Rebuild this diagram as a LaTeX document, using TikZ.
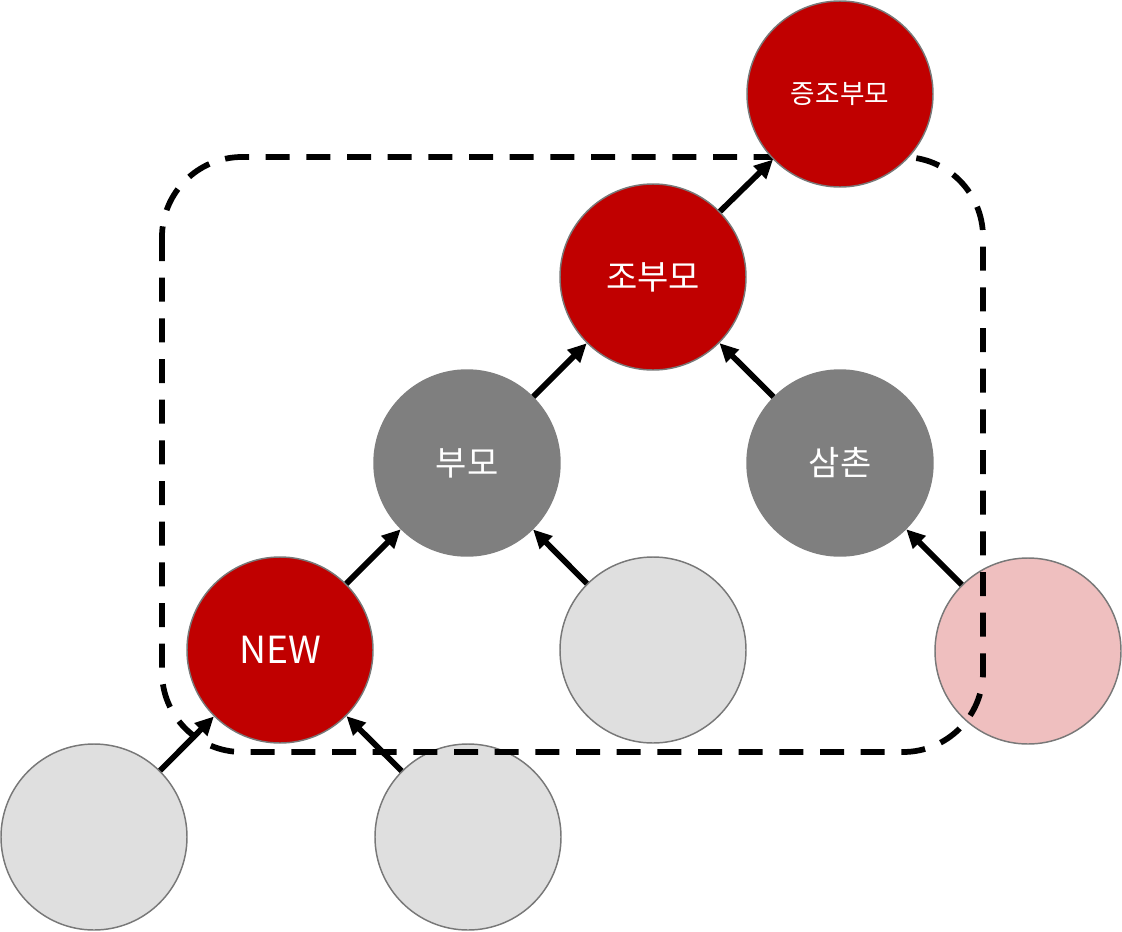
\documentclass[tikz,border=0pt]{standalone}
\usepackage{fontspec}
\setmainfont{Noto Sans CJK KR}
\usetikzlibrary{arrows.meta}
\definecolor{famred}{RGB}{192,0,0}
\definecolor{famgray}{RGB}{127,127,127}
\definecolor{famlight}{RGB}{223,223,223}
\definecolor{fampink}{RGB}{239,191,191}
\definecolor{famedge}{RGB}{120,120,120}

\begin{document}
\begin{tikzpicture}[x=0.75pt,y=-0.75pt,
  person/.style={circle,minimum size=139.5pt,inner sep=0pt,line width=1.1pt,font=\fontsize{25.5}{28}\selectfont,text=white},
  redbox/.style={person,draw=famedge,fill=famred},
  graybox/.style={person,draw=famgray,fill=famgray},
  lightbox/.style={person,draw=famedge,fill=famlight},
  pinkbox/.style={person,draw=famedge,fill=fampink},
  ar/.style={-{Triangle[length=14pt,width=13pt]},line width=4.3pt,black},
  groupbox/.style={draw=black,line width=4.3pt,dash pattern=on 18pt off 12.5pt,rounded corners=60pt}
]
\useasboundingbox (0,0) rectangle (1122,932);
% nodes under the dashed group
\node[pinkbox] (cous) at (1028,651) {};
\node[lightbox] (ch1) at (94,837) {};
\node[lightbox] (ch2) at (468,837) {};

% dashed group
\draw[groupbox] (162,157) rectangle (983,752);

% family tree
\node[redbox,font=\fontsize{20}{23}\selectfont] (gg) at (840,94) {증조부모};
\node[redbox] (gp) at (653,277) {조부모};
\node[graybox] (par) at (467,463) {부모};
\node[graybox] (unc) at (840,463) {삼촌};
\node[redbox,font=\fontsize{28}{31}\selectfont] (new) at (280,650) {NEW};
\node[lightbox] (sib) at (653,650) {};

\draw[ar] (ch1) -- (new);
\draw[ar] (ch2) -- (new);
\draw[ar] (new) -- (par);
\draw[ar] (sib) -- (par);
\draw[ar] (par) -- (gp);
\draw[ar] (unc) -- (gp);
\draw[ar] (cous) -- (unc);
\draw[ar] (gp) -- (gg);
\end{tikzpicture}
\end{document}
